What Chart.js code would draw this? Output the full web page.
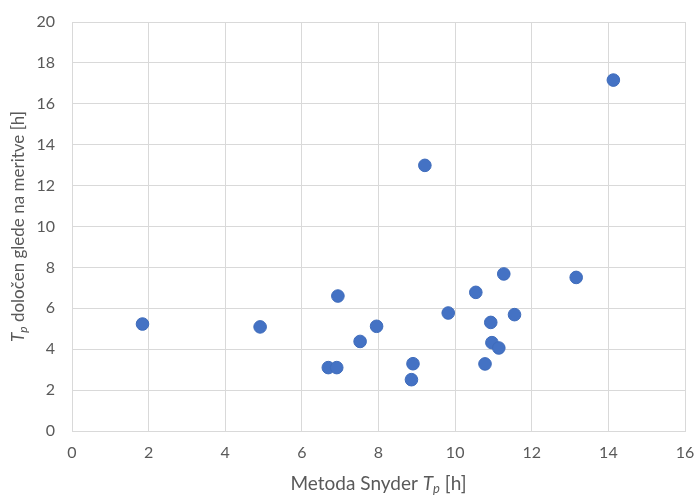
<!DOCTYPE html>
<html>
<head>
<meta charset="utf-8">
<script src="https://cdn.jsdelivr.net/npm/chart.js@4"></script>
<style>
html,body{margin:0;padding:0;background:#fff;}
#wrap{width:697px;height:495px;position:relative;}
</style>
</head>
<body>
<div id="wrap"><canvas id="c" width="697" height="495"></canvas></div>
<script>
const xValues = [1.84, 4.91, 6.69, 6.91, 6.94, 7.52, 7.95, 8.86, 8.90, 9.21, 9.82, 10.54, 10.78, 10.93, 10.96, 11.14, 11.27, 11.55, 13.16, 14.13];
const yValues = [5.23, 5.09, 3.10, 3.10, 6.60, 4.38, 5.12, 2.51, 3.29, 12.99, 5.77, 6.78, 3.28, 5.31, 4.32, 4.06, 7.68, 5.69, 7.51, 17.16];
const xTicks = [0, 2, 4, 6, 8, 10, 12, 14, 16];
const yTicks = [0, 2, 4, 6, 8, 10, 12, 14, 16, 18, 20];
const xTitle = [{t:'Metoda Snyder '}, {t:'T', i:true}, {t:'p', i:true, sub:true}, {t:' [h]'}];
const yTitle = [{t:'T', i:true}, {t:'p', i:true, sub:true}, {t:' določen glede na meritve [h]'}];

const FONT = 'Lato, Carlito, "Open Sans", sans-serif';
const TXT = '#595959';

function drawRich(ctx, segs, size) {
  const fontFor = s => (s.i ? 'italic ' : '') + (s.sub ? Math.round(size*0.7) : size) + 'px ' + FONT;
  let total = 0;
  segs.forEach(s => { ctx.font = fontFor(s); s.w = ctx.measureText(s.t).width; total += s.w; });
  let x = -total/2;
  segs.forEach(s => {
    ctx.font = fontFor(s);
    ctx.fillText(s.t, x, s.sub ? size*0.25 : 0);
    x += s.w;
  });
}

const titlePlugin = {
  id: 'richTitles',
  afterDraw(chart) {
    const ctx = chart.ctx;
    const ca = chart.chartArea;
    ctx.save();
    ctx.fillStyle = TXT;
    ctx.textBaseline = 'middle';
    ctx.textAlign = 'left';
    ctx.translate((ca.left + ca.right)/2, 484);
    drawRich(ctx, xTitle, 19);
    ctx.restore();
    ctx.save();
    ctx.fillStyle = TXT;
    ctx.textBaseline = 'middle';
    ctx.textAlign = 'left';
    ctx.translate(19, (ca.top + ca.bottom)/2);
    ctx.rotate(-Math.PI/2);
    drawRich(ctx, yTitle, 17);
    ctx.restore();
  }
};

new Chart(document.getElementById('c'), {
  type: 'scatter',
  data: {
    datasets: [{
      data: xValues.map((x, k) => ({x: x, y: yValues[k]})),
      backgroundColor: '#4472C4',
      borderColor: '#3F6CBB',
      borderWidth: 1,
      pointRadius: 6.3,
      pointHoverRadius: 6.3
    }]
  },
  options: {
    responsive: false,
    animation: false,
    layout: { padding: { top: 22, right: 12, left: 0, bottom: 0 } },
    plugins: { legend: { display: false }, tooltip: { enabled: false } },
    scales: {
      x: {
        type: 'linear', min: 0, max: 16,
        afterBuildTicks: a => { a.ticks = xTicks.map(v => ({value: v})); },
        afterFit: a => { a.height = 64; a.paddingLeft = 0; a.paddingRight = 0; },
        grid: { color: '#d9d9d9', lineWidth: 1, drawTicks: false },
        border: { color: '#d9d9d9' },
        ticks: { color: TXT, font: { family: FONT, size: 16 }, padding: 12, maxRotation: 0 }
      },
      y: {
        type: 'linear', min: 0, max: 20,
        afterBuildTicks: a => { a.ticks = yTicks.map(v => ({value: v})); },
        afterFit: a => { a.width = 72; a.paddingTop = 0; a.paddingBottom = 0; },
        grid: { color: '#d9d9d9', lineWidth: 1, drawTicks: false },
        border: { color: '#d9d9d9' },
        ticks: { color: TXT, font: { family: FONT, size: 16 }, padding: 17 }
      }
    }
  },
  plugins: [titlePlugin]
});
</script>
</body>
</html>
